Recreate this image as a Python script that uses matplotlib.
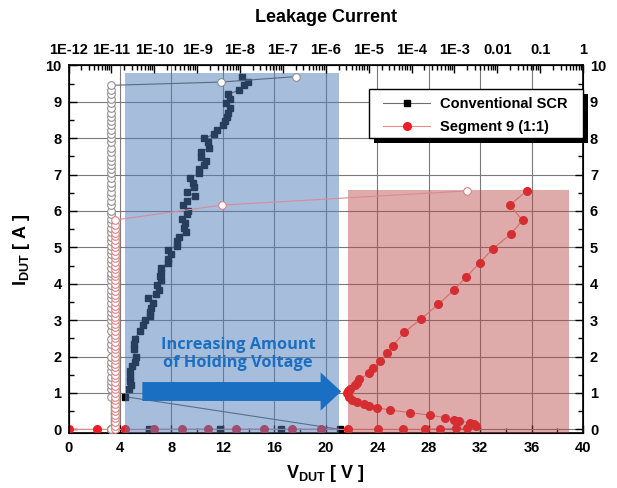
import matplotlib
matplotlib.use("Agg")
import matplotlib.pyplot as plt
from matplotlib.lines import Line2D
from matplotlib.patches import Rectangle
from matplotlib.ticker import FixedLocator, FixedFormatter, LogLocator, NullFormatter, MultipleLocator

plt.rcParams['font.family'] = ['Liberation Sans', 'DejaVu Sans']
plt.rcParams['font.weight'] = 'bold'
plt.rcParams['mathtext.fontset'] = 'custom'
plt.rcParams['mathtext.rm'] = 'Liberation Sans:bold'
plt.rcParams['mathtext.bf'] = 'Liberation Sans:bold'
plt.rcParams['mathtext.it'] = 'Liberation Sans:bold'

# ---------------- data ----------------
conv_V = [6.27, 11.77, 16.5, 21.1,
          4.36, 4.70, 4.89, 4.75, 4.81, 4.81, 4.96, 5.14, 5.22, 5.07, 5.07, 5.14,
          5.58, 5.79, 5.92, 6.31, 6.31, 6.44, 6.57, 6.18, 6.78, 7.03, 6.88, 7.22,
          7.15, 7.22, 7.22, 7.74, 7.74, 8.00, 7.74, 8.44, 8.44, 8.57, 9.10, 8.96,
          9.04, 8.86, 9.22, 9.30, 8.91, 9.22, 9.82, 9.22, 9.72, 9.69, 9.43, 10.16,
          10.16, 10.52, 10.68, 10.34, 10.34, 10.94, 10.86, 10.52, 11.30, 11.51,
          12.03, 12.16, 12.29, 12.37, 12.55, 12.24, 12.55, 12.37, 13.28, 13.64,
          13.98, 13.46]
conv_I = [0.0, 0.0, 0.0, 0.0,
          0.90, 1.10, 1.21, 1.33, 1.45, 1.60, 1.74, 1.85, 2.00, 2.20, 2.34, 2.49,
          2.70, 2.88, 3.00, 3.11, 3.21, 3.34, 3.46, 3.62, 3.71, 3.83, 3.96, 4.10,
          4.20, 4.30, 4.44, 4.58, 4.69, 4.81, 4.93, 5.05, 5.17, 5.29, 5.42, 5.54,
          5.66, 5.79, 5.91, 6.00, 6.15, 6.27, 6.41, 6.52, 6.65, 6.78, 6.91, 7.03,
          7.14, 7.25, 7.37, 7.49, 7.62, 7.74, 7.88, 7.99, 8.10, 8.22,
          8.35, 8.47, 8.59, 8.70, 8.84, 8.96, 9.08, 9.20, 9.32, 9.45,
          9.54, 9.69]
conv_leak = [1.0e-11, 1.0e-11, 1.0e-11, 1.0e-11,
             1.0e-11, 1.0e-11, 1.0e-11, 1.0e-11, 1.0e-11, 1.0e-11, 1.0e-11, 1.0e-11,
             1.0e-11, 1.0e-11, 1.0e-11, 1.0e-11, 1.0e-11, 1.0e-11, 1.0e-11, 1.0e-11,
             1.0e-11, 1.0e-11, 1.0e-11, 1.0e-11, 1.0e-11, 1.0e-11, 1.0e-11, 1.0e-11,
             1.0e-11, 1.0e-11, 1.0e-11, 1.0e-11, 1.0e-11, 1.0e-11, 1.0e-11, 1.0e-11,
             1.0e-11, 1.0e-11, 1.0e-11, 1.0e-11, 1.0e-11, 1.0e-11, 1.0e-11, 1.0e-11,
             1.0e-11, 1.0e-11, 1.0e-11, 1.0e-11, 1.0e-11, 1.0e-11, 1.0e-11, 1.0e-11,
             1.0e-11, 1.0e-11, 1.0e-11, 1.0e-11, 1.0e-11, 1.0e-11, 1.0e-11, 1.0e-11,
             1.0e-11, 1.0e-11, 1.0e-11, 1.0e-11, 1.0e-11, 1.0e-11, 1.0e-11, 1.0e-11,
             1.0e-11, 1.0e-11, 1.0e-11, 1.0e-11,
             3.7e-9, 2.0e-7]

seg_V = [0.0, 2.2, 4.43, 6.66, 8.86, 10.85, 13.05, 15.2, 17.4, 19.6, 21.76, 24.05,
         26.04, 27.75, 28.9, 30.1, 31.0, 31.65, 31.5, 31.2, 30.35, 30.0, 29.3,
         28.14, 26.58, 24.97, 23.98, 23.4, 22.94, 22.42, 22.03, 21.77, 21.64,
         21.7, 21.9, 22.24, 22.42, 22.6, 23.38, 23.67, 24.24, 24.76, 25.2, 26.11,
         27.44, 28.73, 29.95, 30.94, 31.98, 32.99, 34.37, 35.3, 34.3, 35.62]
seg_I = [0.0, 0.0, 0.0, 0.0, 0.0, 0.0, 0.0, 0.0, 0.0, 0.0, 0.0, 0.0,
         0.0, 0.0, 0.02, 0.03, 0.03, 0.09, 0.14, 0.18, 0.23, 0.27, 0.32,
         0.39, 0.46, 0.53, 0.60, 0.64, 0.71, 0.75, 0.81, 0.90, 0.99,
         1.05, 1.12, 1.21, 1.28, 1.37, 1.54, 1.69, 1.88, 2.09, 2.29, 2.67,
         3.04, 3.43, 3.82, 4.19, 4.58, 4.96, 5.36, 5.74, 6.16, 6.55]
# leakage readings of Segment 9 (taken at their own pulse currents)
seg_leak_I = [0.00, 0.10, 0.20, 0.30, 0.40, 0.50, 0.60, 0.70, 0.80, 0.90,
              1.00, 1.10, 1.20, 1.30, 1.40, 1.50, 1.60, 1.70, 1.80, 1.90,
              2.00, 2.10, 2.20, 2.30, 2.40, 2.50, 2.60, 2.70, 2.80, 2.90,
              3.00, 3.10, 3.20, 3.30, 3.40, 3.50, 3.60, 3.70, 3.80, 3.90,
              4.00, 4.10, 4.20, 4.30, 4.40, 4.50, 4.60, 4.70, 4.80, 4.90,
              5.00, 5.10, 5.20, 5.30, 5.40, 5.50, 5.62, 5.75,
              6.16, 6.55]
seg_leak = [1.2e-11, 1.2e-11, 1.2e-11, 1.2e-11, 1.2e-11, 1.2e-11, 1.2e-11, 1.2e-11,
            1.2e-11, 1.2e-11, 1.2e-11, 1.2e-11, 1.2e-11, 1.2e-11, 1.2e-11, 1.2e-11,
            1.2e-11, 1.2e-11, 1.2e-11, 1.2e-11, 1.2e-11, 1.2e-11, 1.2e-11, 1.2e-11,
            1.2e-11, 1.2e-11, 1.2e-11, 1.2e-11, 1.2e-11, 1.2e-11, 1.2e-11, 1.2e-11,
            1.2e-11, 1.2e-11, 1.2e-11, 1.2e-11, 1.2e-11, 1.2e-11, 1.2e-11, 1.2e-11,
            1.2e-11, 1.2e-11, 1.2e-11, 1.2e-11, 1.2e-11, 1.2e-11, 1.2e-11, 1.2e-11,
            1.2e-11, 1.2e-11, 1.2e-11, 1.2e-11, 1.2e-11, 1.2e-11, 1.2e-11, 1.2e-11,
            1.2e-11, 1.2e-11,
            3.8e-9, 2.0e-3]

x_ticks = [0, 4, 8, 12, 16, 20, 24, 28, 32, 36, 40]
y_ticks = [0, 1, 2, 3, 4, 5, 6, 7, 8, 9, 10]
top_ticks = [1e-12, 1e-11, 1e-10, 1e-9, 1e-8, 1e-7, 1e-6, 1e-5, 1e-4, 1e-3, 1e-2, 1e-1, 1]
top_labels = ['1E-12', '1E-11', '1E-10', '1E-9', '1E-8', '1E-7', '1E-6', '1E-5',
              '1E-4', '1E-3', '0.01', '0.1', '1']

blue_region = (4.4, 21.0, 9.8)     # V start, V end, I top
red_region = (21.7, 38.9, 6.57)

series_names = ['Conventional SCR', 'Segment 9 (1:1)']

# ---------------- figure ----------------
W, H = 617, 488
fig = plt.figure(figsize=(W / 100, H / 100), dpi=100)
ax_l, ax_r, ax_t, ax_b = 68.5, 583, 65.3, 433
ax = fig.add_axes([ax_l / W, 1 - ax_b / H, (ax_r - ax_l) / W, (ax_b - ax_t) / H])
ax.set_xlim(0, 40)
ax.set_ylim(-0.1, 10)
ax.set_axisbelow(True)
ax.grid(True, which='major', color='#7a7a7a', lw=0.8)

# I-V curves
ax.plot(conv_V, conv_I, color='#606060', lw=0.8, marker='s', ms=5,
        mfc='black', mec='black', zorder=3)
ax.plot(seg_V, seg_I, color='#f08a8a', lw=0.8, marker='o', ms=5.5,
        mfc='#ee1c25', mec='#ee1c25', zorder=3)

# shaded regions (drawn on top with transparency)
ax.add_patch(Rectangle((blue_region[0], -0.1), blue_region[1] - blue_region[0],
                       blue_region[2] + 0.1, facecolor='#4f7fb9', alpha=0.5,
                       lw=0, zorder=4))
ax.add_patch(Rectangle((red_region[0], -0.1), red_region[1] - red_region[0],
                       red_region[2] + 0.1, facecolor='#b84444', alpha=0.45,
                       lw=0, zorder=4))

# arrow and text
ax.arrow(5.74, 1.04, 21.2 - 5.74, 0, width=0.52, head_width=1.05, head_length=1.6,
         length_includes_head=True, color='#1b6fc2', lw=0, zorder=6)
ax.text(13.2, 2.06, 'Increasing Amount\nof Holding Voltage', ha='center', va='center',
        color='#1b6fc2', fontsize=11.8, fontweight='bold', family=['Open Sans', 'DejaVu Sans'],
        linespacing=1.15, zorder=7)

ax.xaxis.set_major_locator(FixedLocator(x_ticks))
ax.xaxis.set_minor_locator(MultipleLocator(2))
ax.yaxis.set_major_locator(FixedLocator(y_ticks))
ax.yaxis.set_minor_locator(MultipleLocator(0.5))
ax.tick_params(which='both', direction='in', top=False, right=True, labelright=True,
               labelsize=10.5, width=1)
ax.tick_params(axis='x', which='major', length=6, pad=6)
ax.tick_params(axis='y', which='major', length=6, pad=5)
ax.tick_params(which='minor', length=3.5)
for lab in ax.get_xticklabels() + ax.get_yticklabels():
    lab.set_fontweight('bold')
for s in ax.spines.values():
    s.set_linewidth(1.2)

# leakage (top axis)
ax2 = ax.twiny()
ax2.set_xscale('log')
ax2.set_xlim(1e-12, 1)
ax2.plot(conv_leak, conv_I, color='#5a6a80', lw=0.8, marker='o', ms=5.5,
         mfc='white', mec='#909090', mew=0.8, zorder=3)
ax2.plot(seg_leak, seg_leak_I, color='#d88a9a', lw=0.8, marker='o', ms=5.5,
         mfc='white', mec='#e08080', mew=0.8, zorder=3)
ax2.xaxis.set_major_locator(FixedLocator(top_ticks))
ax2.xaxis.set_major_formatter(FixedFormatter(top_labels))
ax2.xaxis.set_minor_locator(LogLocator(base=10, subs=range(2, 10), numticks=50))
ax2.xaxis.set_minor_formatter(NullFormatter())
ax2.tick_params(which='both', direction='in', labelsize=10.5, width=1)
ax2.tick_params(which='major', length=6, pad=6)
ax2.tick_params(which='minor', length=3.5)
for lab in ax2.get_xticklabels():
    lab.set_fontweight('bold')

# legend: frame and shadow drawn by hand to match the boxed look
def px_to_axes(px, py):
    return ((px - ax_l) / (ax_r - ax_l), (ax_b - py) / (ax_b - ax_t))

fx0, fy0 = px_to_axes(369, 138)
fx1, fy1 = px_to_axes(583, 89)
sx0, sy0 = px_to_axes(374, 143)
sx1, sy1 = px_to_axes(588, 94)
ax2.add_artist(Rectangle((sx0, sy0), sx1 - sx0, sy1 - sy0, transform=ax2.transAxes,
                         facecolor='black', edgecolor='none', clip_on=False, zorder=18))
ax2.add_artist(Rectangle((fx0, fy0), fx1 - fx0, fy1 - fy0, transform=ax2.transAxes,
                         facecolor='white', edgecolor='black', lw=1.0, clip_on=False,
                         zorder=19))
handles = [Line2D([], [], color='#707070', lw=0.8, marker='s', ms=5, mfc='black', mec='black'),
           Line2D([], [], color='#f08a8a', lw=0.8, marker='o', ms=5.5, mfc='#ee1c25', mec='#ee1c25')]
leg = ax2.legend(handles, series_names, loc='center',
                 bbox_to_anchor=px_to_axes(475.5, 115.5), borderaxespad=0, borderpad=0,
                 frameon=False, prop={'weight': 'bold', 'size': 10.5}, handlelength=3.2,
                 handletextpad=0.7, labelspacing=0.6)
leg.set_zorder(20)

# labels
fig.text(0.5 * (ax_l + ax_r) / W, 1 - 18 / H, 'Leakage Current', ha='center', va='center',
         fontsize=13, fontweight='bold')
fig.text(0.5 * (ax_l + ax_r) / W, 1 - 474 / H, r'V$_{\mathrm{DUT}}$ [ V ]', ha='center',
         va='center', fontsize=13, fontweight='bold')
fig.text(22 / W, 1 - 250 / H, r'I$_{\mathrm{DUT}}$ [ A ]', ha='center', va='center',
         rotation=90, fontsize=13, fontweight='bold')

fig.savefig('out.png', dpi=100)
